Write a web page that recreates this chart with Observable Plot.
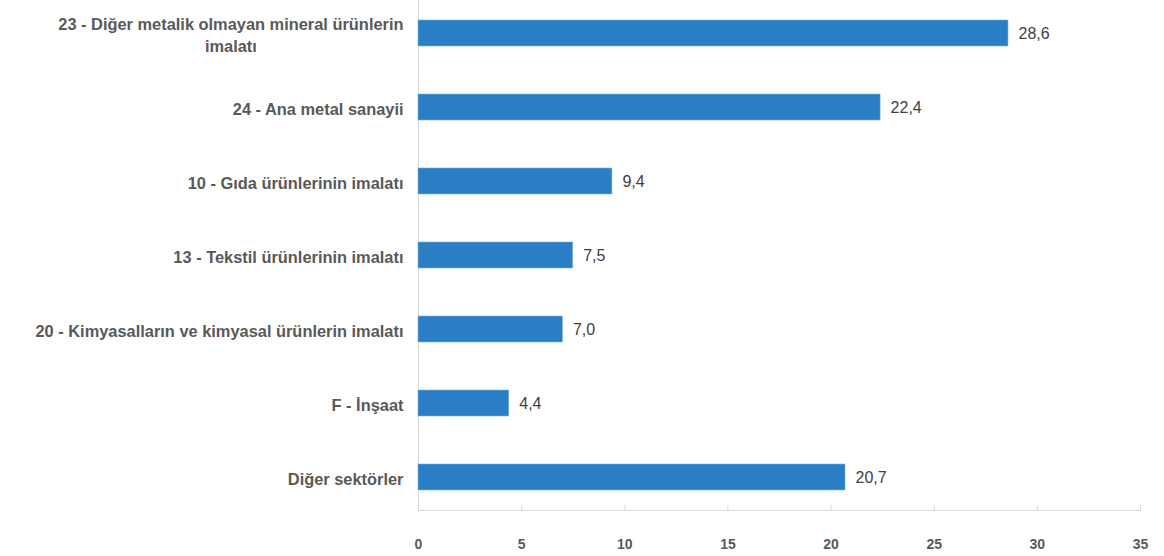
<!DOCTYPE html>
<html>
<head>
<meta charset="utf-8">
<script src="https://cdn.jsdelivr.net/npm/d3@7"></script>
<script src="https://cdn.jsdelivr.net/npm/@observablehq/plot@0.6"></script>
<style>
  html, body { margin: 0; padding: 0; background: #fff; }
  #chart svg { display: block; }
</style>
</head>
<body>
<div id="chart"></div>
<script>
const categories = [
  "23 - Diğer metalik olmayan mineral ürünlerin\nimalatı",
  "24 - Ana metal sanayii",
  "10 - Gıda ürünlerinin imalatı",
  "13 - Tekstil ürünlerinin imalatı",
  "20 - Kimyasalların ve kimyasal ürünlerin imalatı",
  "F - İnşaat",
  "Diğer sektörler"
];
const values = [28.6, 22.4, 9.4, 7.5, 7.0, 4.4, 20.7];
const xTicks = [0, 5, 10, 15, 20, 25, 30, 35];

const data = categories.map((c, i) => ({ cat: c, value: values[i] }));
const fmt = v => v.toFixed(1).replace(".", ",");

const font = "'Liberation Sans', Arial, sans-serif";
const chart = Plot.plot({
  width: 1164,
  height: 556,
  marginLeft: 418,
  marginRight: 24,
  marginTop: 0,
  marginBottom: 46,
  style: { fontFamily: font, fontSize: "14px", color: "#595959", background: "#fff" },
  x: { domain: [0, 35], ticks: xTicks },
  y: { domain: categories, paddingInner: 0.65, paddingOuter: 0.257 },
  marks: [
    Plot.frame({ anchor: "bottom", stroke: "#d9d9d9" }),
    Plot.ruleX([0], { stroke: "#d9d9d9" }),
    Plot.barX(data, { x: "value", y: "cat", fill: "#2a7ec5", stroke: "#7fb2e0", strokeWidth: 0.6 }),
    Plot.text(data, { x: "value", y: "cat", text: d => fmt(d.value), textAnchor: "start", dx: 10, fill: "#404040", fontSize: 16 }),
    Plot.axisY({ tickSize: 0, tickPadding: 15, label: null, fontWeight: "bold", fontSize: 16.4, lineHeight: 1.35, fill: "#595959" }),
    Plot.axisX({ ticks: xTicks, tickSize: -5, tickFormat: () => "", label: null, stroke: "#d9d9d9" }),
    Plot.axisX({ ticks: xTicks, tickSize: 0, tickPadding: 29, label: null, fontWeight: "bold", fontSize: 14, fill: "#595959" })
  ]
});
document.getElementById("chart").appendChild(chart);

// center multi-line category labels as a block
chart.querySelectorAll("text").forEach(t => {
  const spans = t.querySelectorAll("tspan");
  if (spans.length > 1) {
    const bb = t.getBBox();
    const cx = bb.x + bb.width / 2;
    t.setAttribute("text-anchor", "middle");
    t.style.textAnchor = "middle";
    spans.forEach(s => s.setAttribute("x", cx));
  }
});
</script>
</body>
</html>
